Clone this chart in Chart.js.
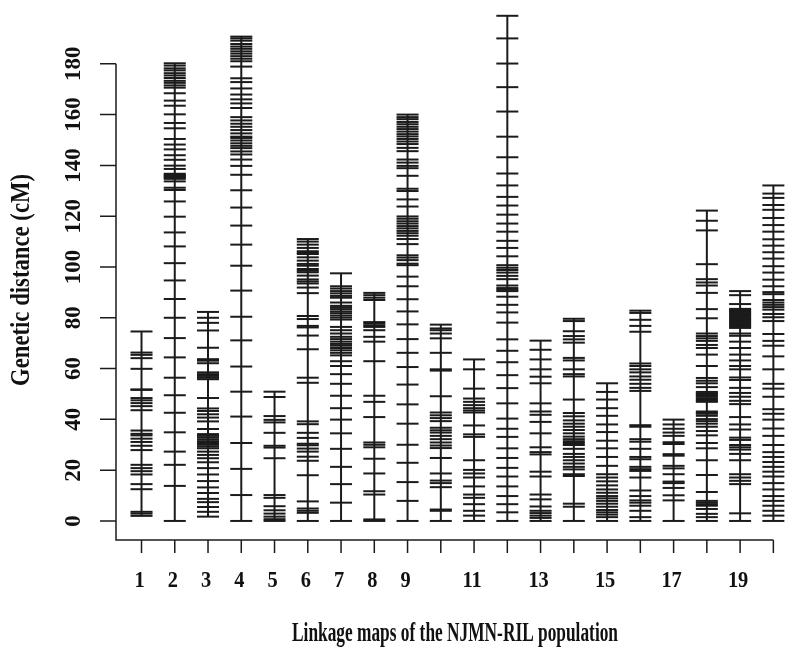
<!DOCTYPE html>
<html>
<head>
<meta charset="utf-8">
<script src="https://cdn.jsdelivr.net/npm/chart.js@4.4.1/dist/chart.umd.min.js"></script>
<style>
  html, body { margin: 0; padding: 0; background: #fff; }
  canvas { display: block; }
</style>
</head>
<body>
<canvas id="chart" width="800" height="652"></canvas>
<script>
// Linkage maps of the NJMN-RIL population: one vertical bar per linkage group,
// one short horizontal tick per marker (position in cM)
const chromosomes = [1, 2, 3, 4, 5, 6, 7, 8, 9, 10, 11, 12, 13, 14, 15, 16, 17, 18, 19, 20];
const xTickLabels = ['1', '2', '3', '4', '5', '6', '7', '8', '9', '', '11', '', '13', '', '15', '', '17', '', '19', ''];
const yTicks = [0, 20, 40, 60, 80, 100, 120, 140, 160, 180];

const chr01 = [74.6, 66.3, 65.4, 64.1, 59.9, 51.8, 51.6, 48.4, 47.5, 46.4, 45.2, 43.6, 35.6, 34.3, 33.7, 32.4, 31.1, 29.6, 27.9, 22.1, 20.8, 19.6, 18.3, 14.5, 12.5, 3.6, 2.9, 2.0];
const chr02 = [180.2, 179.3, 178.2, 177.4, 176.3, 175.4, 174.4, 173.3, 172.5, 171.5, 170.6, 168.4, 165.5, 163.5, 160.1, 156.7, 154.6, 150.4, 148.2, 146.3, 144, 142.2, 139.9, 138.6, 136.7, 136.3, 135.9, 135.5, 135.1, 134.7, 133.7, 131.2, 130.3, 125.8, 119.8, 113.6, 108.1, 101.5, 94.7, 87.4, 80, 72, 64.4, 56.4, 49.5, 42.6, 34.9, 27.3, 22.1, 13.8, 0];
const chr03 = [82.3, 80, 78, 75, 68.2, 63.7, 63.1, 62.1, 58.5, 57.8, 57.1, 56.4, 55.8, 48.4, 44.3, 43.3, 42, 40.7, 39.2, 36.2, 34.2, 33.5, 32.8, 32.1, 31.4, 30.7, 30, 29.3, 28.6, 27.3, 26, 24.7, 23.1, 20.8, 18.3, 15.7, 13.2, 11, 8.7, 7.4, 5.5, 3.6, 1.7];
const chr04 = [190.7, 190, 189.1, 187.8, 186.8, 185.9, 184.9, 184, 183, 182, 181, 178.9, 174.3, 172.8, 170.3, 167.9, 166, 164.4, 162.6, 159, 157.7, 156.4, 155.2, 153.9, 152.6, 151.3, 150.8, 149.8, 148.7, 147.7, 146.8, 145.5, 144.3, 142.3, 139.8, 136.3, 130.2, 123.4, 116.3, 108.8, 100.5, 90.7, 80.4, 71.1, 60.8, 50.9, 41.1, 30.7, 20.5, 10.2, 0];
const chr05 = [50.9, 48.8, 41.3, 39.8, 38.8, 34.7, 29.6, 28.9, 24.7, 10.2, 9.1, 5.8, 4.2, 2.9, 1.7, 0.7, 0];
const chr06 = [111, 110, 108.8, 107.5, 106.2, 105.6, 105.1, 103.8, 102.5, 101.2, 100.5, 99.2, 98.5, 97.9, 96.6, 95.1, 94.3, 93.5, 91.9, 89.7, 80.7, 79.5, 76.8, 76.2, 73, 67.6, 56.4, 54.4, 39.2, 38.1, 34.7, 32.7, 30.4, 29.8, 28.5, 27.3, 25.3, 23.7, 18, 7.7, 4.9, 4, 3.2, 0];
const chr07 = [97.5, 92.4, 91.5, 90.5, 89.6, 88.6, 87.9, 86, 84.7, 84.1, 83.4, 82.5, 81.8, 80.9, 80.1, 79.3, 76.4, 75.1, 73.8, 72.5, 71.6, 70.6, 69.7, 69, 68.1, 67.2, 66.2, 65.2, 62.9, 61, 57.8, 54, 49.3, 44.4, 39.9, 34.5, 28.4, 21.3, 14.5, 7.2, 0];
const chr08 = [89.8, 88.9, 87.9, 87, 78.3, 77.7, 77, 76.4, 75.1, 72.5, 70.6, 62.9, 49.3, 46.9, 40.9, 30.9, 30, 29, 24.5, 18.7, 11.7, 10.4, 0.6, 0];
const chr09 = [160, 159, 158.2, 157.1, 156.2, 155.2, 154.3, 153.3, 152.3, 151.4, 150.4, 149.4, 148.4, 146.9, 145.6, 142.3, 141.1, 139.8, 138.9, 135.9, 130.8, 129.9, 126.6, 123.8, 119.9, 119, 118, 117.1, 116.1, 115.2, 114.2, 113.3, 112.3, 111, 109, 104.6, 103.7, 102.7, 101.3, 100.7, 96.2, 92.4, 87.3, 82.5, 77.4, 71.6, 66.2, 60.6, 53.7, 45.9, 38.3, 30, 22.9, 15.3, 7.9, 0];
const chr10 = [77.3, 75.8, 75.1, 73.8, 71.9, 66.2, 59.7, 59.2, 49.1, 42.7, 41.6, 40.5, 39.3, 36.7, 35.7, 34.8, 33.5, 32.2, 30.9, 29.7, 28.7, 24.8, 18.7, 15.9, 14.9, 13.3, 4.5, 4.0, 0];
const chr11 = [63.6, 59.7, 52.1, 48.2, 46.9, 45.6, 44.4, 43.5, 42.7, 37.6, 34.1, 33.1, 23.9, 20.1, 18.7, 17.1, 13.6, 10.4, 9.1, 6.6, 4, 2.1, 0];
const chr12 = [198.9, 190, 180.1, 170.8, 161.2, 151.3, 143.2, 136.8, 132.1, 127.6, 124.2, 120.6, 117.1, 113.9, 110.3, 107.5, 104.2, 100.7, 99.7, 98.8, 97.8, 96.5, 95.2, 92.7, 91.7, 91.1, 90.5, 88.3, 85.1, 82.1, 78.1, 71.5, 67, 62.5, 57.4, 52.3, 46.3, 40.3, 36.3, 33.1, 28.6, 24.8, 20.9, 17.5, 13.6, 9.8, 6.6, 3.4, 0];
const chr13 = [71, 67.4, 63.6, 59.7, 56.8, 54.2, 46.3, 43.1, 41.8, 39, 34.5, 29, 27.1, 26.2, 19.4, 17.5, 10.4, 8.5, 5.7, 4, 3.1, 2.1, 1.2, 0];
const chr14 = [79.6, 78.7, 74.7, 72.8, 71.5, 70.2, 64.2, 63.2, 59.7, 57.8, 56.9, 47.8, 42.5, 41.2, 39.6, 38.3, 37.1, 35.8, 34.5, 33.2, 32.2, 31.4, 30.7, 29.9, 28.4, 26.4, 25.2, 23.9, 22.6, 21.3, 20.3, 18.4, 17.7, 6.8, 5.6, 0];
const chr15 = [54.2, 50.8, 47.8, 44.4, 41.4, 38, 35, 31.6, 28.6, 25.2, 21.7, 18.4, 17.1, 15.6, 14, 12.4, 11.1, 9.8, 8.9, 7.9, 6.8, 5.6, 4.3, 3.4, 2.5, 1.5, 0];
const chr16 = [82.8, 81.9, 79.2, 76.8, 74.5, 62, 61, 59.7, 58.5, 56.9, 55.6, 54, 52.4, 51.2, 37.7, 37.1, 32.2, 31.2, 28.4, 25.2, 24.3, 21.3, 20.4, 19.7, 17.1, 12, 9.8, 8.1, 7.2, 6, 4, 1.5, 0];
const chr17 = [39.9, 38, 36.3, 34.8, 33.5, 31, 30.3, 26.3, 25.7, 21.7, 20.7, 18.4, 15.5, 14.9, 13, 10.1, 8.1, 0];
const chr18 = [122.2, 118.2, 114.4, 101.1, 95.2, 93.9, 92.7, 89.8, 83.4, 79.8, 73.8, 72.8, 71.9, 70.9, 69.3, 68.1, 65.5, 61, 56.3, 55.2, 54.2, 52.7, 50.8, 50.3, 49.9, 49.4, 48.9, 48.3, 47.8, 47.3, 46.9, 43.1, 42.6, 42.2, 41.4, 40.1, 39.3, 38.3, 37.1, 35.4, 33.7, 30.7, 28.6, 23.9, 18.1, 11.4, 7.9, 7.2, 6.6, 6, 4.7, 2.8, 1.5, 0];
const chr19 = [90.5, 88.9, 85.4, 83.5, 83, 82.5, 82, 81.5, 81, 80.5, 80, 79.5, 79, 78.5, 78, 77.5, 77, 76.5, 76, 73.8, 72.9, 70.6, 68.1, 65.5, 63.2, 61, 59.7, 56.5, 55.5, 52.4, 50.4, 48.9, 47.3, 46, 40.9, 38, 36, 32.8, 31.9, 29.9, 29, 28.1, 26.4, 23.9, 18.4, 17.1, 15.8, 14.5, 3, 0];
const chr20 = [132.1, 128.9, 127.2, 124.4, 122.5, 119.3, 116.5, 113.9, 110.9, 108.4, 105.8, 103.3, 100.3, 97.8, 95, 92.4, 90.1, 89.3, 87, 86, 85.1, 84.2, 83.2, 81.5, 80.2, 78.7, 73.6, 70.9, 69, 64.8, 59.7, 54, 52.1, 48.9, 44, 42.2, 39.9, 36.4, 33.5, 29.9, 27.1, 25.2, 23.2, 21.3, 19.4, 17.5, 14.9, 12.4, 9.8, 7.9, 6, 4, 2.1, 0];

const markerSets = [chr01, chr02, chr03, chr04, chr05, chr06, chr07, chr08, chr09, chr10,
                    chr11, chr12, chr13, chr14, chr15, chr16, chr17, chr18, chr19, chr20];

const INK = '#1b1b1b';
const FONT = '"Liberation Serif", "Times New Roman", Times, serif';

// backbone of each linkage group, from first to last marker
const backbones = chromosomes.map((c, i) => ({
  data: [{ x: c, y: Math.min(...markerSets[i]) }, { x: c, y: Math.max(...markerSets[i]) }],
  showLine: true,
  borderColor: INK,
  borderWidth: 2,
  pointRadius: 0
}));

const markers = {
  data: chromosomes.flatMap((c, i) => markerSets[i].map(v => ({ x: c, y: v }))),
  showLine: false,
  pointStyle: 'line',
  pointRadius: 11,
  pointBorderWidth: 2,
  pointBorderColor: INK,
  borderColor: INK
};

function drawLabel(ctx, text, x, y, size, opts = {}) {
  ctx.font = `bold ${size}px ${FONT}`;
  const w = ctx.measureText(text).width;
  const sx = opts.width ? opts.width / w : (opts.squeeze || 1);
  ctx.save();
  ctx.translate(x, y);
  if (opts.rotate) ctx.rotate(-Math.PI / 2);
  ctx.scale(sx, 1);
  ctx.fillText(text, 0, 0);
  ctx.restore();
}

// R-style detached axes drawn from the chart's own scales
const rAxes = {
  id: 'rAxes',
  afterDraw(chart) {
    const { ctx, scales: { x, y } } = chart;
    const left = x.getPixelForValue(x.min);
    const base = y.getPixelForValue(y.min);
    const lastX = x.getPixelForValue(chromosomes[chromosomes.length - 1]);
    ctx.save();
    ctx.strokeStyle = INK;
    ctx.lineWidth = 1.5;
    ctx.beginPath();
    ctx.moveTo(left, y.getPixelForValue(yTicks[yTicks.length - 1]));
    ctx.lineTo(left, base);
    ctx.lineTo(lastX, base);
    yTicks.forEach(v => {
      const py = y.getPixelForValue(v);
      ctx.moveTo(left - 16, py);
      ctx.lineTo(left, py);
    });
    chromosomes.forEach(c => {
      const px = x.getPixelForValue(c);
      ctx.moveTo(px, base);
      ctx.lineTo(px, base + 13);
    });
    ctx.stroke();

    ctx.fillStyle = '#111';
    ctx.textAlign = 'center';
    ctx.textBaseline = 'middle';
    yTicks.forEach(v => drawLabel(ctx, String(v), 74, y.getPixelForValue(v), 23, { rotate: true }));
    chromosomes.forEach((c, i) => {
      if (xTickLabels[i]) drawLabel(ctx, xTickLabels[i], x.getPixelForValue(c) - 2, 581, 24, { squeeze: 0.85 });
    });
    drawLabel(ctx, 'Linkage maps of the NJMN-RIL population', 455, 634, 27, { width: 326 });
    drawLabel(ctx, 'Genetic distance (cM)', 22, 280, 27, { rotate: true, width: 212 });
    ctx.restore();
  }
};

new Chart(document.getElementById('chart'), {
  type: 'scatter',
  data: { datasets: [...backbones, markers] },
  options: {
    responsive: false,
    devicePixelRatio: 1,
    animation: false,
    events: [],
    layout: { padding: { left: 116, right: 0, top: 0, bottom: 112 } },
    plugins: { legend: { display: false }, tooltip: { enabled: false } },
    scales: {
      x: { type: 'linear', min: 0.233, max: 20.41, display: false },
      y: { type: 'linear', min: -7.5, max: 200, display: false }
    }
  },
  plugins: [rAxes]
});
</script>
</body>
</html>
